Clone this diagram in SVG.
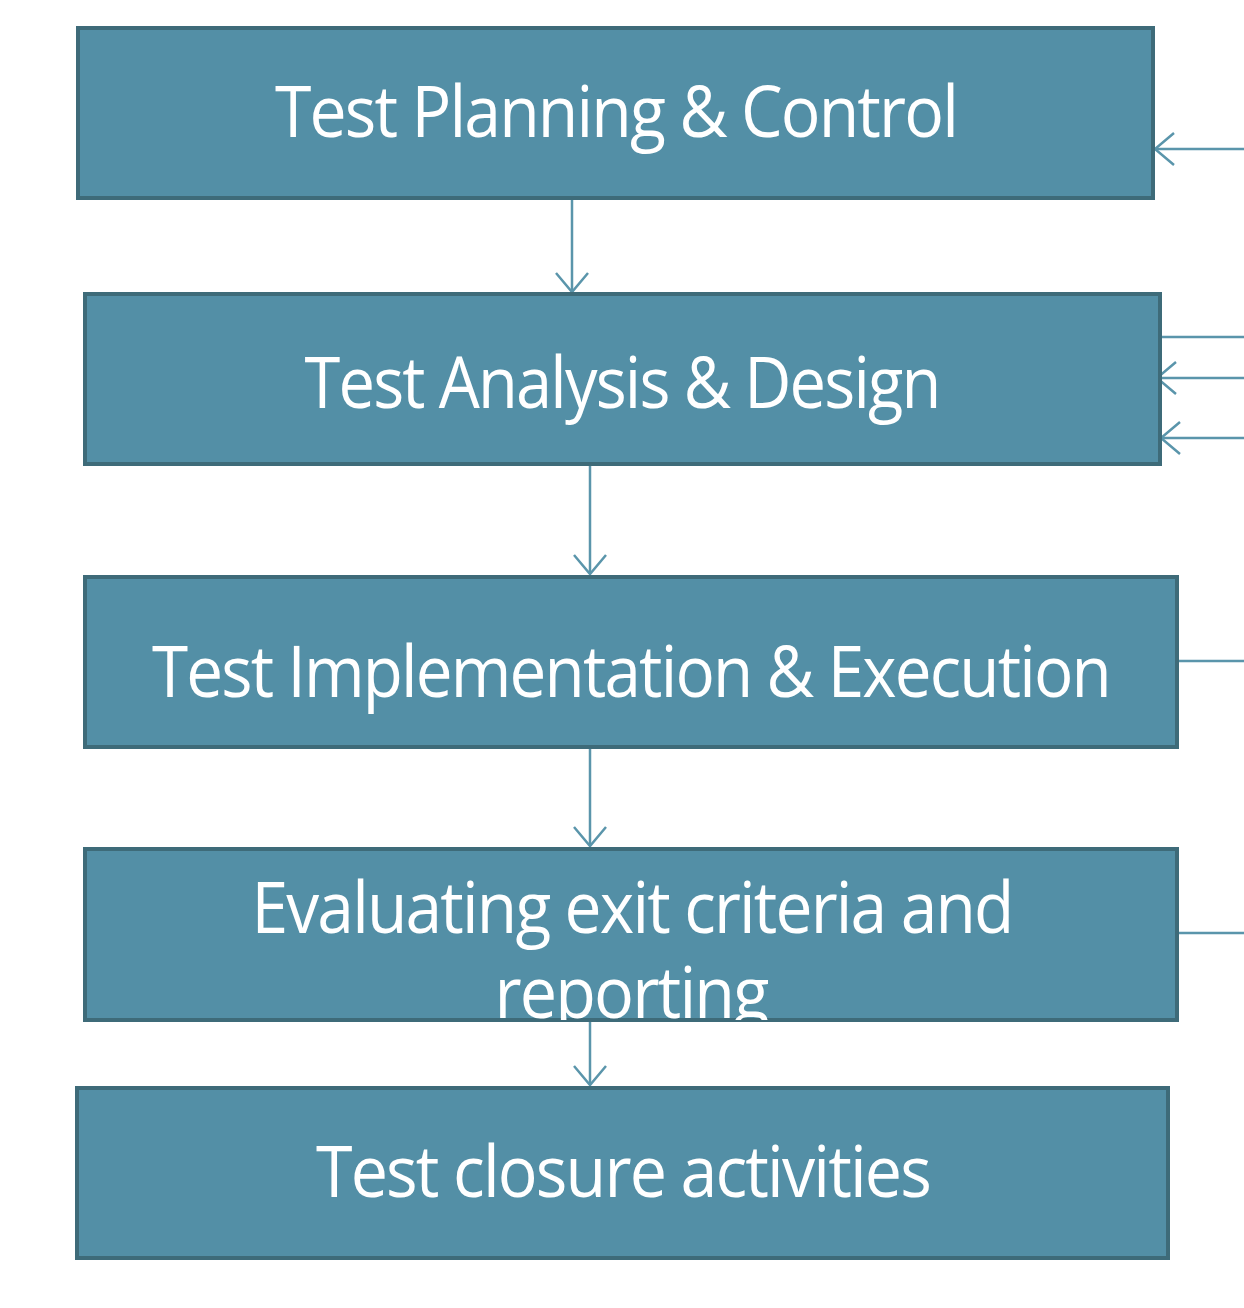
<svg xmlns="http://www.w3.org/2000/svg" width="1244" height="1308" viewBox="0 0 1244 1308">
<style>
.box{fill:#538fa6;stroke:#3e6b79;stroke-width:4}
.lbl{fill:#ffffff;font-family:"Open Sans","DejaVu Sans",sans-serif;font-size:72px;text-anchor:middle;letter-spacing:-2px}
.con{stroke:#5a95ab;stroke-width:2.5;fill:none}
</style>
<defs>
<marker id="arr" markerUnits="userSpaceOnUse" markerWidth="30" markerHeight="40" refX="20" refY="17" orient="auto" viewBox="0 0 30 40">
<path d="M1,1 L20,17 L1,33" fill="none" stroke="#5a95ab" stroke-width="2.5"/>
</marker>
<clipPath id="c4"><rect x="84" y="848" width="1093" height="172"/></clipPath>
</defs>
<rect width="1244" height="1308" fill="#ffffff"/>
<g id="connectors">
<line class="con" x1="572" y1="200" x2="572" y2="292" marker-end="url(#arr)"/>
<line class="con" x1="590" y1="466" x2="590" y2="574" marker-end="url(#arr)"/>
<line class="con" x1="590" y1="749" x2="590" y2="846" marker-end="url(#arr)"/>
<line class="con" x1="590" y1="1022" x2="590" y2="1085" marker-end="url(#arr)"/>
<line class="con" x1="1244" y1="149" x2="1155" y2="149" marker-end="url(#arr)"/>
<line class="con" x1="1244" y1="337" x2="1160" y2="337"/>
<line class="con" x1="1244" y1="378" x2="1157" y2="378" marker-end="url(#arr)"/>
<line class="con" x1="1244" y1="438" x2="1161" y2="438" marker-end="url(#arr)"/>
<line class="con" x1="1244" y1="661" x2="1177" y2="661"/>
<line class="con" x1="1244" y1="933" x2="1177" y2="933"/>
</g>
<g id="n1">
<rect class="box" x="78" y="28" width="1075" height="170"/>
<text class="lbl" x="616" y="137" textLength="682" lengthAdjust="spacingAndGlyphs">Test Planning &amp;  Control</text>
</g>
<g id="n2">
<rect class="box" x="85" y="294" width="1075" height="170"/>
<text class="lbl" x="622" y="408" textLength="635" lengthAdjust="spacingAndGlyphs">Test Analysis &amp; Design</text>
</g>
<g id="n3">
<rect class="box" x="85" y="577" width="1092" height="170"/>
<text class="lbl" x="631" y="697" textLength="958" lengthAdjust="spacingAndGlyphs">Test Implementation &amp;  Execution</text>
</g>
<g id="n4">
<rect class="box" x="85" y="849" width="1092" height="171"/>
<g clip-path="url(#c4)">
<text class="lbl" x="632" y="933" textLength="761" lengthAdjust="spacingAndGlyphs">Evaluating exit criteria and</text>
<text class="lbl" x="631" y="1018" textLength="273" lengthAdjust="spacingAndGlyphs">reporting</text>
</g>
</g>
<g id="n5">
<rect class="box" x="77" y="1088" width="1091" height="170"/>
<text class="lbl" x="623" y="1197" textLength="614" lengthAdjust="spacingAndGlyphs">Test closure  activities</text>
</g>
</svg>
